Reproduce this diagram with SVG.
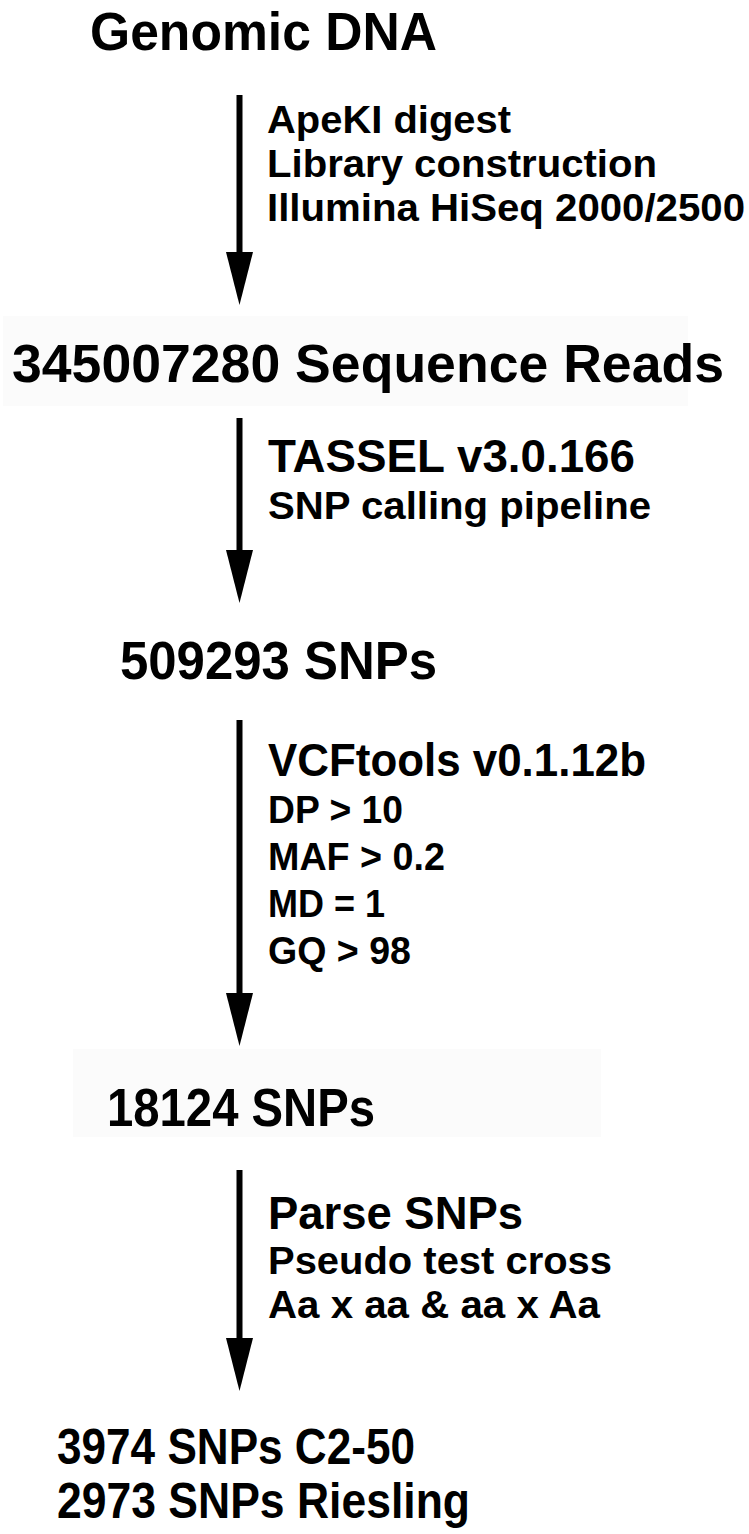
<svg xmlns="http://www.w3.org/2000/svg" width="749" height="1534" viewBox="0 0 749 1534">
<style>
text{font-family:"Liberation Sans",Arial,sans-serif;font-weight:bold;fill:#000}
.big{font-size:53px}
.fin{font-size:50px}
.mid{font-size:46px}
.sm{font-size:38px}
.bg{fill:#fbfbfb}
.ln{stroke:#000;stroke-width:6}
.hd{fill:#000}
</style>
<rect width="749" height="1534" fill="#fff"/>
<g id="node-genomic"><text class="big" x="90" y="50" textLength="347" lengthAdjust="spacingAndGlyphs">Genomic DNA</text></g>
<g id="node-reads"><rect class="bg" x="3" y="316" width="685" height="90"/><text class="big" x="12" y="382" textLength="712" lengthAdjust="spacingAndGlyphs">345007280 Sequence Reads</text></g>
<g id="node-509293"><text class="big" x="120" y="679" textLength="317" lengthAdjust="spacingAndGlyphs">509293 SNPs</text></g>
<g id="node-18124"><rect class="bg" x="73" y="1049" width="528" height="88"/><text class="big" x="107" y="1126" textLength="268" lengthAdjust="spacingAndGlyphs">18124 SNPs</text></g>
<g id="node-final"><text class="fin" x="57" y="1464" textLength="358" lengthAdjust="spacingAndGlyphs">3974 SNPs C2-50</text><text class="fin" x="57" y="1518" textLength="413" lengthAdjust="spacingAndGlyphs">2973 SNPs Riesling</text></g>
<g id="connectors">
<line class="ln" x1="239.5" y1="95" x2="239.5" y2="254"/><polygon class="hd" points="226,252 253,252 239.5,305"/>
<line class="ln" x1="239.5" y1="418" x2="239.5" y2="552"/><polygon class="hd" points="226,550 253,550 239.5,603"/>
<line class="ln" x1="239.5" y1="720" x2="239.5" y2="995"/><polygon class="hd" points="226,993 253,993 239.5,1046"/>
<line class="ln" x1="239.5" y1="1170" x2="239.5" y2="1340"/><polygon class="hd" points="226,1338 253,1338 239.5,1391"/>
</g>
<g id="label-1">
<text class="sm" x="267" y="133" textLength="244" lengthAdjust="spacingAndGlyphs">ApeKI digest</text>
<text class="sm" x="267" y="177" textLength="390" lengthAdjust="spacingAndGlyphs">Library construction</text>
<text class="sm" x="267" y="221" textLength="478" lengthAdjust="spacingAndGlyphs">Illumina HiSeq 2000/2500</text>
</g>
<g id="label-2">
<text class="mid" x="268" y="472" textLength="367" lengthAdjust="spacingAndGlyphs">TASSEL v3.0.166</text>
<text class="sm" x="268" y="519" textLength="383" lengthAdjust="spacingAndGlyphs">SNP calling pipeline</text>
</g>
<g id="label-3">
<text class="mid" x="268" y="776" textLength="378" lengthAdjust="spacingAndGlyphs">VCFtools v0.1.12b</text>
<text class="sm" x="268" y="823" textLength="135" lengthAdjust="spacingAndGlyphs">DP &gt; 10</text>
<text class="sm" x="268" y="870" textLength="177" lengthAdjust="spacingAndGlyphs">MAF &gt; 0.2</text>
<text class="sm" x="268" y="917" textLength="117" lengthAdjust="spacingAndGlyphs">MD = 1</text>
<text class="sm" x="268" y="964" textLength="143" lengthAdjust="spacingAndGlyphs">GQ &gt; 98</text>
</g>
<g id="label-4">
<text class="mid" x="268" y="1229" textLength="255" lengthAdjust="spacingAndGlyphs">Parse SNPs</text>
<text class="sm" x="268" y="1274" textLength="344" lengthAdjust="spacingAndGlyphs">Pseudo test cross</text>
<text class="sm" x="268" y="1318" textLength="332" lengthAdjust="spacingAndGlyphs">Aa x aa &amp; aa x Aa</text>
</g>
</svg>
